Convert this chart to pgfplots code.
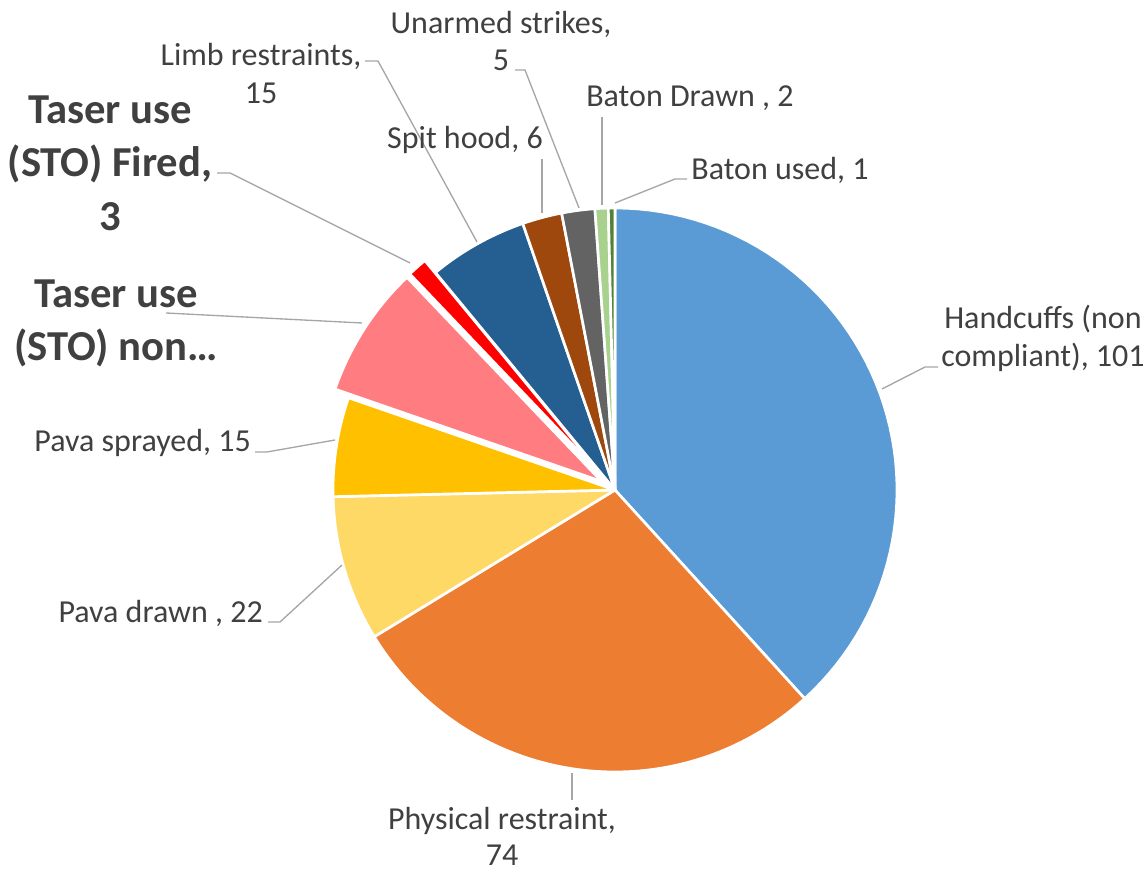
\documentclass[border=0pt]{standalone}
\usepackage{fontspec}
\setmainfont{Carlito}
\usepackage{pgfplots}
\pgfplotsset{compat=1.18}
\definecolor{cHand}{HTML}{5B9BD5}
\definecolor{cPhys}{HTML}{ED7D31}
\definecolor{cPavaD}{HTML}{FFD966}
\definecolor{cPavaS}{HTML}{FFC000}
\definecolor{cTaserN}{HTML}{FF7C80}
\definecolor{cTaserF}{HTML}{FF0000}
\definecolor{cLimb}{HTML}{255E91}
\definecolor{cSpit}{HTML}{9E480E}
\definecolor{cUnarm}{HTML}{636363}
\definecolor{cBatD}{HTML}{A9D18E}
\definecolor{cBatU}{HTML}{548235}
\definecolor{txt}{HTML}{404040}
\definecolor{lead}{HTML}{A6A6A6}
% slice: start (cumulative), value, colour, explode offset
\newcommand\slice[4]{%
 \addplot[fill=#3, draw=white, line width=2pt, line join=round, domain=360*#1/264:360*(#1+#2)/264, samples=60, variable=\t]
 ({615+#4*sin(360*(#1+0.5*#2)/264)+282*sin(\t)}, {385+#4*cos(360*(#1+0.5*#2)/264)+282*cos(\t)})
 -- ({615+#4*sin(360*(#1+0.5*#2)/264)}, {385+#4*cos(360*(#1+0.5*#2)/264)}) -- cycle;
}
\begin{document}
\begin{tikzpicture}
\begin{axis}[width=860.25pt, height=656.25pt, scale only axis,
  xmin=0, xmax=1147, ymin=0, ymax=875, hide axis, clip=false]
\addplot[draw=none, forget plot] coordinates {(0,0) (1147,875)};
% slices (start, value)
\slice{0}{101}{cHand}{0}
\slice{101}{74}{cPhys}{0}
\slice{175}{22}{cPavaD}{0}
\slice{197}{15}{cPavaS}{0}
\slice{212}{20}{cTaserN}{16}
\slice{232}{3}{cTaserF}{16}
\slice{235}{15}{cLimb}{0}
\slice{250}{6}{cSpit}{0}
\slice{256}{5}{cUnarm}{0}
\slice{261}{2}{cBatD}{0}
\slice{263}{1}{cBatU}{0}
% leader lines
\addplot[lead, line width=1pt] coordinates {(882,486) (925,508) (938,508)};
\addplot[lead, line width=1pt] coordinates {(572,102) (572,75)};
\addplot[lead, line width=1pt] coordinates {(268,253) (280,253) (342,310)};
\addplot[lead, line width=1pt] coordinates {(255,423) (267,423) (335,435)};
\addplot[lead, line width=1pt] coordinates {(166,562) (362,552)};
\addplot[lead, line width=1pt] coordinates {(217,702) (230,702) (410,612)};
\addplot[lead, line width=1pt] coordinates {(365,814) (378,814) (477,633)};
\addplot[lead, line width=1pt] coordinates {(515,805) (525,805) (579,667)};
\addplot[lead, line width=1pt] coordinates {(542,716) (542,662)};
\addplot[lead, line width=1pt] coordinates {(602,758) (602,670)};
\addplot[lead, line width=1pt] coordinates {(687,696) (675,696) (615,672)};
% labels
\tikzset{lbl/.style={text=txt, inner sep=0pt, align=center, font=\fontsize{24}{28}\selectfont},
         blbl/.style={text=txt, inner sep=0pt, align=center, font=\fontsize{32}{40}\selectfont\bfseries}}
\node[lbl] at (1043,536.5) {Handcuffs (non\\compliant), 101};
\node[lbl, font=\fontsize{24}{27}\selectfont] at (502,39) {Physical restraint,\\74};
\node[lbl, anchor=east] at (263,262) {Pava drawn , 22};
\node[lbl, anchor=east] at (251,432) {Pava sprayed, 15};
\node[blbl] at (116,551.5) {Taser use\\(STO) non…};
\node[blbl] at (110,712) {Taser use\\(STO) Fired,\\3};
\node[lbl] at (261,801.5) {Limb restraints,\\15};
\node[lbl] at (501,834) {Unarmed strikes,\\5};
\node[lbl] at (465,735) {Spit hood, 6};
\node[lbl] at (690,777) {Baton Drawn , 2};
\node[lbl] at (780,705) {Baton used, 1};
\end{axis}
\end{tikzpicture}
\end{document}
